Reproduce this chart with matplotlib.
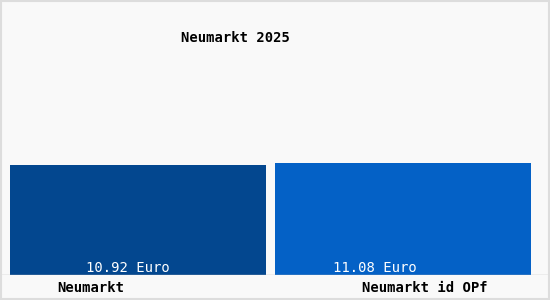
import matplotlib
matplotlib.use("Agg")
import matplotlib.pyplot as plt
from matplotlib.patches import Rectangle

title = "Neumarkt 2025"
categories = ["Neumarkt", "Neumarkt id OPf"]
values = [10.92, 11.08]
value_labels = ["10.92 Euro", "11.08 Euro"]
colors = ["#03478f", "#0461c6"]

fig = plt.figure(figsize=(5.5, 3.0), dpi=100)
fig.patch.set_facecolor("#f9f9f9")
fig.patches.append(Rectangle((0.002, 0.003), 0.996, 0.994, transform=fig.transFigure,
                             fill=False, edgecolor="#dddddd", linewidth=1.5))

ax = fig.add_axes([0, 25 / 300, 1, 275 / 300])
ax.set_facecolor("none")
x = list(range(len(categories)))
ax.bar(x, values, width=256 / 265, color=colors, zorder=2)
ax.set_xlim(-138 / 265, 1 + 147 / 265)
ax.set_ylim(0, 275 / 10.07)
ax.axis("off")
ax.axhline(0, color="#bbbbbb", linewidth=1, zorder=3)

font = "DejaVu Sans Mono"
val_off = [-10.5 / 265, -28 / 265]
for i, (lab, off) in enumerate(zip(value_labels, val_off)):
    ax.text(i + off, 0.7, lab, ha="center", va="center", color="white",
            fontsize=10, family=font)

cat_off = [-47 / 265, 22 / 265]
for i, (lab, off) in enumerate(zip(categories, cat_off)):
    ax.text(i + off, -1.3, lab, ha="center", va="center", color="black",
            fontsize=10, family=font, fontweight="bold", clip_on=False)

fig.text(235 / 550, 1 - 38 / 300, title, ha="center", va="center",
         fontsize=10, family=font, fontweight="bold")

fig.savefig("out.png", dpi=100, facecolor=fig.get_facecolor())
